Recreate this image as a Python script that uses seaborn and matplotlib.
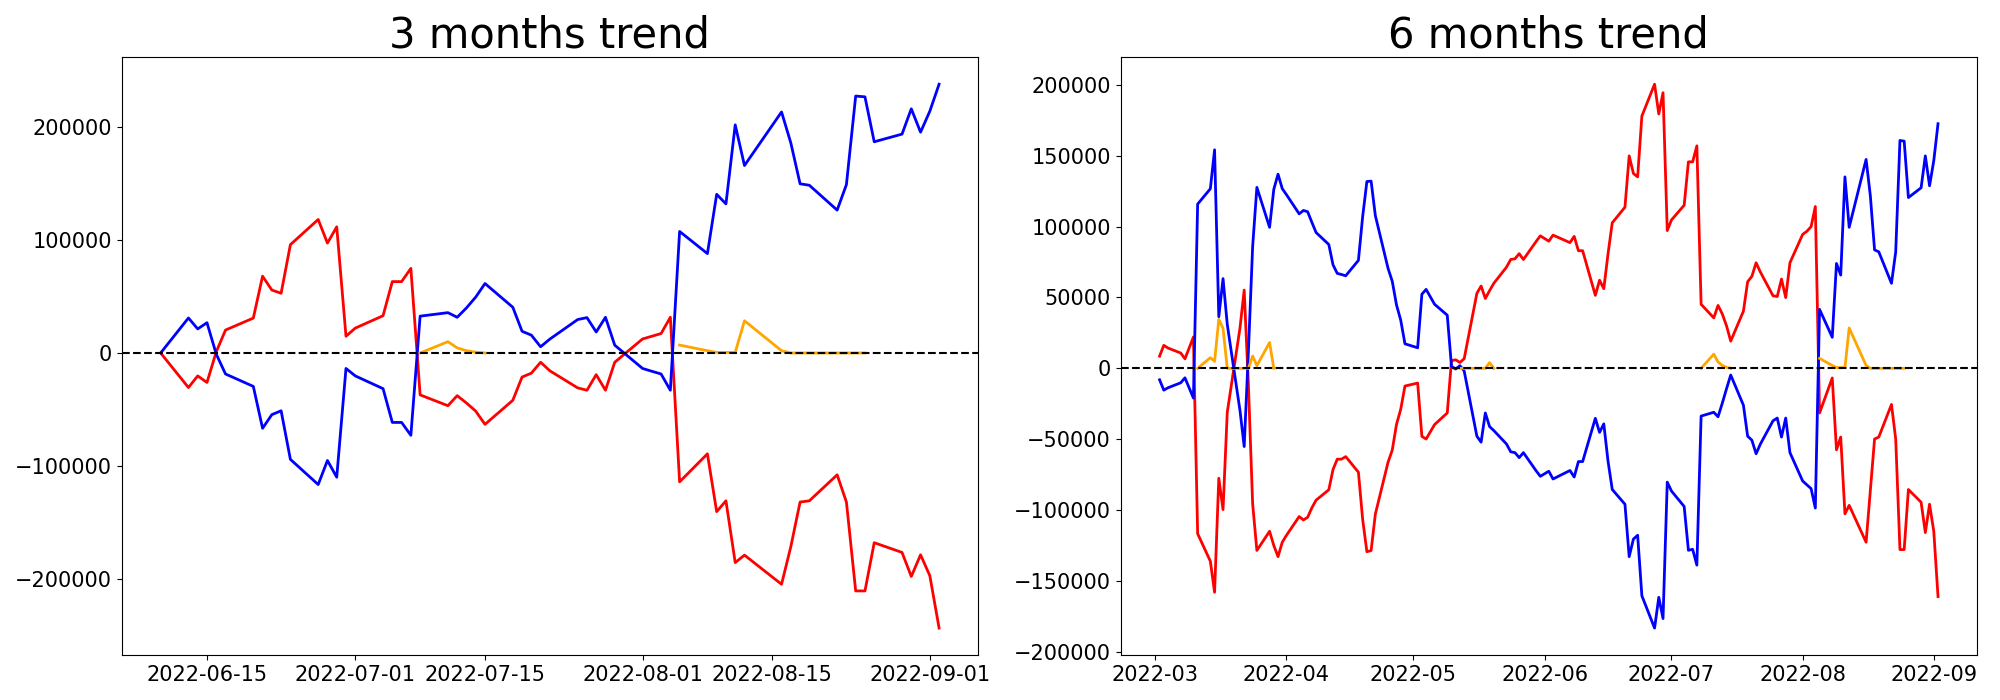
import numpy as np
import pandas as pd
import matplotlib
matplotlib.use("Agg")
import matplotlib.pyplot as plt
import seaborn as sns

nan = np.nan

# trading calendar (weekdays without the market holidays)
holidays = ["2022-03-01", "2022-03-09", "2022-05-05", "2022-06-01", "2022-06-06", "2022-08-15"]
dates_3m = pd.bdate_range("2022-06-10", "2022-09-02", freq="C", holidays=holidays)
dates_6m = pd.bdate_range("2022-03-02", "2022-09-02", freq="C", holidays=holidays)

# ----------------------------
# 3 months data
# ----------------------------
blue_3m = [
    0, 31000, 21300, 26800, -1000, -18600, -29600, -66700, -54600, -51200, -94200, -116500, -95200, -110000, -13700,
    -20300, -31600, -61500, -61500, -72900, 32600, 35700, 31600, 39900, 49500, 61500, 40500, 19200, 15800, 5500,
    12300, 29600, 31300, 18600, 31600, 6900,
    -13700, -16200, -18600, -33000, 107600, 88000, 140500, 132000, 202000, 166000, 213400, 186000, 149800, 148500,
    126500, 149100, 227500, 226800, 187000, 193800, 216200, 195500,
    214100, 238000,
]
red_3m = [
    0, -30600, -20300, -26100, 1000, 20300, 30900, 68000, 55700, 52900, 95900, 118200, 97300, 111700, 14800,
    22000, 33000, 63200, 63200, 74900, -37100, -46700, -37800, -44300, -51500, -63200, -41900, -21300, -17900, -8200,
    -15800, -30900, -33000, -19200, -33000, -8200,
    12400, 14800, 17200, 31600, -114100, -89300, -140500, -130900, -185600, -179000, -204800, -171500, -132000, -130900,
    -107900, -132000, -210700, -210700, -168000, -176600, -197900, -178700,
    -197200, -243600,
]
orange_3m = [
    nan, nan, nan, nan, nan, nan, nan, nan, nan, nan, nan, nan, nan, nan, nan,
    nan, nan, nan, nan, nan, 0, 10000, 4500, 2000, 700, 0, nan, nan, nan, nan,
    nan, nan, nan, nan, nan, nan,
    nan, nan, nan, nan, 7000, 2000, 500, 500, 500, 28500, 2000, 0, 0, 0,
    0, 0, 0, 0, nan, nan, nan, nan,
    nan, nan,
]

# ----------------------------
# 6 months data
# ----------------------------
blue_6m = [
    # March
    -8100, -15400, -13700, -10200, -6700, -21000, 115900, 126700, 154200, 36400, 63300, 31000, -29600, -55200,
    12000, 86000, 127700, 99500, 126300, 137000, 126800,
    # April
    122500, 109000, 111400, 110500, 103000, 95800, 87400, 73000, 67000, 66200, 65300, 76200, 107000, 131800,
    132100, 107800, 70600, 61400, 44800, 34000, 17300,
    # May
    14500, 52300, 55700, 45200, 37500, 1400, -500, 1900, -1900, -47900, -52100, -31500, -41100, -43900,
    -53400, -58900, -59500, -63000, -59500, -72300, -76200,
    # June
    -72600, -78100, -72100, -76700, -65800, -65800, -35300, -45200, -39200, -65500, -85500, -95900, -132900,
    -120500, -117800, -160500, -183300, -161600, -176600, -80300,
    # July
    -86600, -97500, -128400, -127700, -138900, -33700, -31000, -34200, -24700, -14500, -4700, -26000, -47900,
    -50700, -60300, -53500, -37000, -35100, -48500, -35100, -59500,
    # August
    -79500, -82200, -84900, -98600, 41600, 21900, 74000, 65800, 135100, 99500, 147400, 121900, 83600, 82200,
    60000, 82200, 160800, 160300, 120500, 127400, 149900, 128800,
    # September
    146600, 172600,
]
red_6m = [
    # March
    8600, 16200, 14300, 10800, 6700, 22100, -116700, -136100, -158000, -77600, -99700, -31000, 28300, 55200,
    -12000, -95700, -128500, -115000, -125000, -132900, -122700,
    # April
    -117800, -104600, -107000, -105100, -98400, -93000, -85700, -71400, -64100, -64100, -62300, -73300, -106500,
    -129400, -128600, -102900, -66300, -57700, -39600, -28900, -12500,
    # May
    -10400, -48000, -49900, -39700, -31500, 5500, 6000, 4100, 6800, 52900, 58100, 49300, 54800, 60000,
    71400, 76800, 77300, 80900, 76800, 89500, 93500,
    # June
    89700, 94000, 88700, 93100, 83000, 83000, 51500, 62200, 56200, 80800, 102700, 113700, 149900,
    137500, 135100, 178000, 200500, 179500, 194500, 97200,
    # July
    104700, 115100, 145700, 145700, 157000, 45200, 35600, 44400, 38400, 30100, 19200, 40300, 61100,
    64900, 74500, 68000, 51200, 50700, 63000, 49900, 74500,
    # August
    94500, 96700, 100000, 114200, -31500, -6800, -57500, -48500, -102700, -96700, -122700, -86300, -49900, -48500,
    -25500, -49900, -127900, -127900, -85500, -94500, -115900, -95900,
    # September
    -115100, -161100,
]
orange_6m = [
    # March
    nan, nan, nan, nan, nan, nan, 0, 7500, 4900, 34500, 28300, 0, 0, 0,
    0, 8700, 1900, 18200, 0, nan, nan,
    # April
    nan, nan, nan, nan, nan, nan, nan, nan, nan, nan, nan, nan, nan, nan,
    nan, nan, nan, nan, nan, nan, nan,
    # May
    nan, nan, nan, nan, nan, nan, nan, 0, 0, 0, 0, 0, 4000, 0,
    nan, nan, nan, nan, nan, nan, nan,
    # June
    nan, nan, nan, nan, nan, nan, nan, nan, nan, nan, nan, nan, nan,
    nan, nan, nan, nan, nan, nan, nan,
    # July
    nan, nan, nan, nan, nan, 0, 10000, 4500, 2000, 700, 0, nan, nan,
    nan, nan, nan, nan, nan, nan, nan, nan,
    # August
    nan, nan, nan, nan, 7000, 2000, 500, 500, 500, 28500, 2000, 0, 0, 0,
    0, 0, 0, 0, nan, nan, nan, nan,
    # September
    nan, nan,
]


def draw_trend(ax, dates, blue, red, orange, title):
    df = pd.DataFrame({"date": dates, "blue": blue, "red": red, "orange": orange})
    sns.lineplot(data=df, x="date", y="red", color="red", linewidth=2, ax=ax)
    sns.lineplot(data=df, x="date", y="blue", color="blue", linewidth=2, ax=ax)
    # orange has gaps: draw each run of values as its own line
    od = df[["date", "orange"]].copy()
    od["seg"] = od["orange"].isna().cumsum()
    od = od.dropna()
    sns.lineplot(data=od, x="date", y="orange", units="seg", estimator=None,
                 color="orange", linewidth=2, ax=ax)
    ax.axhline(0, color="black", linestyle="--", linewidth=1.5)
    ax.set_title(title, fontsize=30)
    ax.set_xlabel("")
    ax.set_ylabel("")
    ax.tick_params(labelsize=15)


fig, axes = plt.subplots(1, 2, figsize=(20, 7))
draw_trend(axes[0], dates_3m, blue_3m, red_3m, orange_3m, "3 months trend")
draw_trend(axes[1], dates_6m, blue_6m, red_6m, orange_6m, "6 months trend")
plt.tight_layout()
plt.savefig("out.png", dpi=100)
plt.close()
